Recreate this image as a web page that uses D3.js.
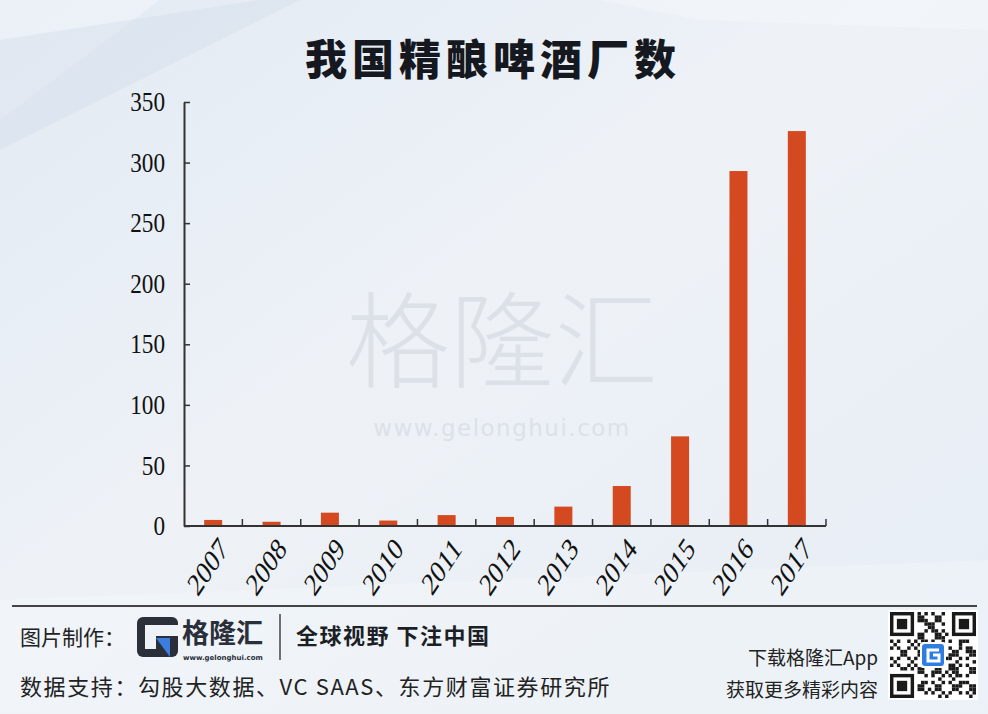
<!DOCTYPE html>
<html>
<head>
<meta charset="utf-8">
<script src="https://cdn.jsdelivr.net/npm/d3@7"></script>
<style>
  body { margin: 0; padding: 0; overflow: hidden; }
  svg { display: block; }
</style>
</head>
<body>
<script>
// chart data
var years = ["2007", "2008", "2009", "2010", "2011", "2012", "2013", "2014", "2015", "2016", "2017"];
var breweries = [5, 3.5, 11, 4.5, 9, 7.5, 16, 33, 74, 293, 326];
var yTicks = [0, 50, 100, 150, 200, 250, 300, 350];

var title = "我国精酿啤酒厂数";
var source = "数据支持：勾股大数据、VC SAAS、东方财富证券研究所";

var W = 988, H = 714;
var margin = {top: 102, left: 184, right: 162, bottom: 188};
var width = W - margin.left - margin.right,
    height = H - margin.top - margin.bottom;

var svg = d3.select("body").append("svg")
    .attr("width", W)
    .attr("height", H);

// background
var defs = svg.append("defs");
var bg = defs.append("linearGradient").attr("id", "bg")
    .attr("x1", 0).attr("y1", 0).attr("x2", 1).attr("y2", 1);
bg.append("stop").attr("offset", 0).attr("stop-color", "#e2eaf3");
bg.append("stop").attr("offset", 0.45).attr("stop-color", "#eef2f7");
bg.append("stop").attr("offset", 1).attr("stop-color", "#e6edf4");
svg.append("rect").attr("width", W).attr("height", H).attr("fill", "url(#bg)");

// soft streaks at the top
var streaks = [
    "M0,0 L160,0 L0,120 Z",
    "M0,40 L260,0 L300,0 L0,150 Z",
    "M600,0 L988,0 L988,30 L700,20 Z",
    "M0,600 L988,560 L988,714 L0,714 Z"
];
svg.selectAll("path.streak")
    .data(streaks)
    .enter().append("path")
    .attr("class", "streak")
    .attr("d", function(d) { return d; })
    .attr("fill", function(d, i) { return i == 1 ? "#d6e0eb" : "#f6f8fb"; })
    .attr("opacity", function(d, i) { return i == 3 ? 0.35 : 0.5; });

// watermark
svg.append("text")
    .attr("x", 502).attr("y", 380)
    .attr("text-anchor", "middle")
    .style("font-family", "'Noto Sans CJK SC'")
    .style("font-weight", 300)
    .style("font-size", "104px")
    .attr("fill", "#dce1e7")
    .text("格隆汇");
svg.append("text")
    .attr("x", 502).attr("y", 436)
    .attr("text-anchor", "middle")
    .style("font-family", "'DejaVu Sans'")
    .style("font-size", "23px")
    .style("letter-spacing", "1.5px")
    .attr("fill", "#dce1e7")
    .text("www.gelonghui.com");

// title
svg.append("text")
    .attr("x", 493).attr("y", 75)
    .attr("text-anchor", "middle")
    .style("font-family", "'Noto Sans CJK SC'")
    .style("font-weight", 900)
    .style("font-size", "42px")
    .style("letter-spacing", "5px")
    .attr("fill", "#15191f")
    .text(title);

var g = svg.append("g")
    .attr("transform", "translate(" + margin.left + "," + margin.top + ")");

var x = d3.scaleBand().domain(years).range([0, width]).padding(0);
var y = d3.scaleLinear().domain([0, 350]).range([height, 0]);

// bars
g.selectAll("rect.bar")
    .data(breweries)
    .enter().append("rect")
    .attr("class", "bar")
    .attr("x", function(d, i) { return x(years[i]) + x.bandwidth() / 2 - 9; })
    .attr("width", 18)
    .attr("y", function(d) { return y(d); })
    .attr("height", function(d) { return height - y(d); })
    .attr("fill", "#d4491f");

// y axis
var yAxis = g.append("g")
    .call(d3.axisLeft(y).tickValues(yTicks).tickSizeInner(-6).tickSizeOuter(0).tickPadding(0));
yAxis.select(".domain").attr("stroke", "#333").attr("stroke-width", 2);
yAxis.selectAll(".tick line").attr("stroke", "#333").attr("stroke-width", 1.5);
yAxis.selectAll("text")
    .attr("x", 0)
    .attr("transform", "translate(-19,0) scale(0.86,1)")
    .style("font-family", "'Liberation Serif'")
    .style("font-size", "27px")
    .attr("fill", "#111");

// x axis, ticks sit on the band boundaries
var xAxis = g.append("g")
    .attr("transform", "translate(0," + height + ")");
xAxis.append("line")
    .attr("x1", 0).attr("x2", width)
    .attr("stroke", "#333").attr("stroke-width", 2);
xAxis.selectAll("line.tk")
    .data(years)
    .enter().append("line")
    .attr("class", "tk")
    .attr("x1", function(d) { return x(d) + x.bandwidth(); })
    .attr("x2", function(d) { return x(d) + x.bandwidth(); })
    .attr("y1", 0).attr("y2", -7)
    .attr("stroke", "#333").attr("stroke-width", 1.5);
xAxis.selectAll("text")
    .data(years)
    .enter().append("text")
    .attr("transform", function(d) {
        return "translate(" + (x(d) + x.bandwidth() / 2 + 4) + ",9) scale(0.74,1) rotate(-48)";
    })
    .attr("text-anchor", "end")
    .attr("dy", "0.7em")
    .style("font-family", "'Liberation Serif'")
    .style("font-size", "32px")
    .attr("fill", "#111")
    .text(function(d) { return d; });

// footer
svg.append("line")
    .attr("x1", 12).attr("x2", 977)
    .attr("y1", 606).attr("y2", 606)
    .attr("stroke", "#444").attr("stroke-width", 2);

var cjk = "'Noto Sans CJK SC'";
svg.append("text")
    .attr("x", 20).attr("y", 645)
    .style("font-family", cjk).style("font-size", "21px")
    .attr("fill", "#222")
    .text("图片制作：");

// logo
var logo = svg.append("g").attr("transform", "translate(137,617)");
logo.append("rect").attr("width", 41).attr("height", 40).attr("rx", 6).attr("fill", "#2a2f3a");
logo.append("rect").attr("x", 8).attr("y", 8).attr("width", 33).attr("height", 11).attr("fill", "#eef2f7");
logo.append("rect").attr("x", 8).attr("y", 19).attr("width", 11).attr("height", 13).attr("fill", "#eef2f7");
logo.append("path").attr("d", "M19,21 L33,21 L33,40 Z").attr("fill", "#3c7de0");
svg.append("text")
    .attr("x", 182).attr("y", 643)
    .style("font-family", cjk).style("font-weight", 700).style("font-size", "27px")
    .attr("fill", "#2a2f3a")
    .text("格隆汇");
svg.append("text")
    .attr("x", 183).attr("y", 660)
    .style("font-family", "'DejaVu Sans'").style("font-weight", 700).style("font-size", "7px")
    .attr("fill", "#2a2f3a")
    .text("www.gelonghui.com");
svg.append("line")
    .attr("x1", 280).attr("x2", 280).attr("y1", 614).attr("y2", 660)
    .attr("stroke", "#444").attr("stroke-width", 1.5);
svg.append("text")
    .attr("x", 296).attr("y", 644)
    .style("font-family", cjk).style("font-weight", 700).style("font-size", "22px")
    .style("letter-spacing", "1.5px")
    .attr("fill", "#1c1f26")
    .text("全球视野 下注中国");

svg.append("text")
    .attr("x", 20).attr("y", 695)
    .style("font-family", cjk).style("font-size", "22px")
    .style("letter-spacing", "1.6px")
    .attr("fill", "#222")
    .text(source);

svg.append("text")
    .attr("x", 878).attr("y", 665)
    .attr("text-anchor", "end")
    .style("font-family", cjk).style("font-size", "19px")
    .attr("fill", "#222")
    .text("下载格隆汇App");
svg.append("text")
    .attr("x", 878).attr("y", 697)
    .attr("text-anchor", "end")
    .style("font-family", cjk).style("font-size", "19px")
    .attr("fill", "#222")
    .text("获取更多精彩内容");

// qr code (decorative, fixed pattern)
var qr = svg.append("g").attr("transform", "translate(890,612)");
var n = 25, cell = 3.44;
qr.append("rect").attr("x", -2).attr("y", -2).attr("width", n * cell + 4).attr("height", n * cell + 4).attr("fill", "#fff");
var cells = [];
for (var r = 0; r < n; r++) {
    for (var c = 0; c < n; c++) {
        var inFinder = (r < 8 && c < 8) || (r < 8 && c >= n - 8) || (r >= n - 8 && c < 8);
        if (inFinder) continue;
        if (((r * 7 + c * 13 + r * c * 3) % 5) < 2 || ((r ^ c) % 7 == 1)) cells.push([r, c]);
    }
}
qr.selectAll("rect.m")
    .data(cells)
    .enter().append("rect")
    .attr("class", "m")
    .attr("x", function(d) { return d[1] * cell; })
    .attr("y", function(d) { return d[0] * cell; })
    .attr("width", cell).attr("height", cell)
    .attr("fill", "#1a1a1a");
[[0, 0], [0, n - 7], [n - 7, 0]].forEach(function(p) {
    var fx = p[1] * cell, fy = p[0] * cell;
    qr.append("rect").attr("x", fx).attr("y", fy).attr("width", 7 * cell).attr("height", 7 * cell).attr("fill", "#1a1a1a");
    qr.append("rect").attr("x", fx + cell).attr("y", fy + cell).attr("width", 5 * cell).attr("height", 5 * cell).attr("fill", "#fff");
    qr.append("rect").attr("x", fx + 2 * cell).attr("y", fy + 2 * cell).attr("width", 3 * cell).attr("height", 3 * cell).attr("fill", "#1a1a1a");
});
var qc = n * cell / 2;
qr.append("rect").attr("x", qc - 13).attr("y", qc - 13).attr("width", 26).attr("height", 26).attr("rx", 3).attr("fill", "#fff");
qr.append("rect").attr("x", qc - 11).attr("y", qc - 11).attr("width", 22).attr("height", 22).attr("rx", 3).attr("fill", "#2f7de1");
qr.append("path")
    .attr("d", "M" + (qc + 6) + "," + (qc - 5) + " L" + (qc - 5) + "," + (qc - 5) + " L" + (qc - 5) + "," + (qc + 6) + " L" + (qc + 6) + "," + (qc + 6) + " L" + (qc + 6) + "," + qc + " L" + qc + "," + qc)
    .attr("fill", "none").attr("stroke", "#fff").attr("stroke-width", 3);
</script>
</body>
</html>
